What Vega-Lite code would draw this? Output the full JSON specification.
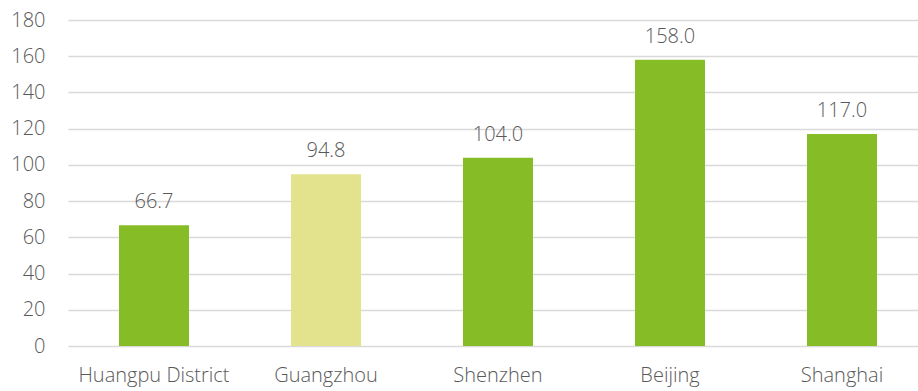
{
  "$schema": "https://vega.github.io/schema/vega-lite/v6.json",
  "width": 860,
  "height": 326,
  "autosize": {"type": "none"},
  "padding": {"left": 68, "top": 20, "right": -10, "bottom": 45},
  "background": "white",
  "config": {
    "view": {"stroke": null},
    "font": "Open Sans"
  },
  "data": {
    "values": [
      {"region": "Huangpu District", "value": 66.7, "group": "a"},
      {"region": "Guangzhou", "value": 94.8, "group": "b"},
      {"region": "Shenzhen", "value": 104.0, "group": "a"},
      {"region": "Beijing", "value": 158.0, "group": "a"},
      {"region": "Shanghai", "value": 117.0, "group": "a"}
    ]
  },
  "encoding": {
    "x": {
      "field": "region",
      "type": "nominal",
      "sort": null,
      "scale": {"paddingInner": 0.593, "paddingOuter": 0.2965},
      "axis": {
        "title": null,
        "labelAngle": 0,
        "domain": false,
        "ticks": false,
        "labelFont": "Open Sans",
        "labelFontSize": 20,
        "labelFontWeight": 300,
        "labelColor": "#595959",
        "labelPadding": 19
      }
    },
    "y": {
      "field": "value",
      "type": "quantitative",
      "scale": {"domain": [0, 180], "nice": false},
      "axis": {
        "title": null,
        "values": [0, 20, 40, 60, 80, 100, 120, 140, 160, 180],
        "domain": false,
        "ticks": false,
        "grid": true,
        "gridColor": "#d9d9d9",
        "gridWidth": 1.3,
        "labelFont": "Open Sans",
        "labelFontSize": 20,
        "labelFontWeight": 300,
        "labelColor": "#595959",
        "labelPadding": 23
      }
    }
  },
  "layer": [
    {
      "mark": {"type": "bar"},
      "encoding": {
        "color": {
          "field": "group",
          "type": "nominal",
          "scale": {"domain": ["a", "b"], "range": ["#86bc25", "#e3e38d"]},
          "legend": null
        }
      }
    },
    {
      "mark": {"type": "text", "baseline": "alphabetic", "dy": -17, "font": "Open Sans", "fontSize": 20, "fontWeight": 300, "color": "#595959"},
      "encoding": {
        "text": {"field": "value", "type": "quantitative", "format": ".1f"}
      }
    }
  ]
}
